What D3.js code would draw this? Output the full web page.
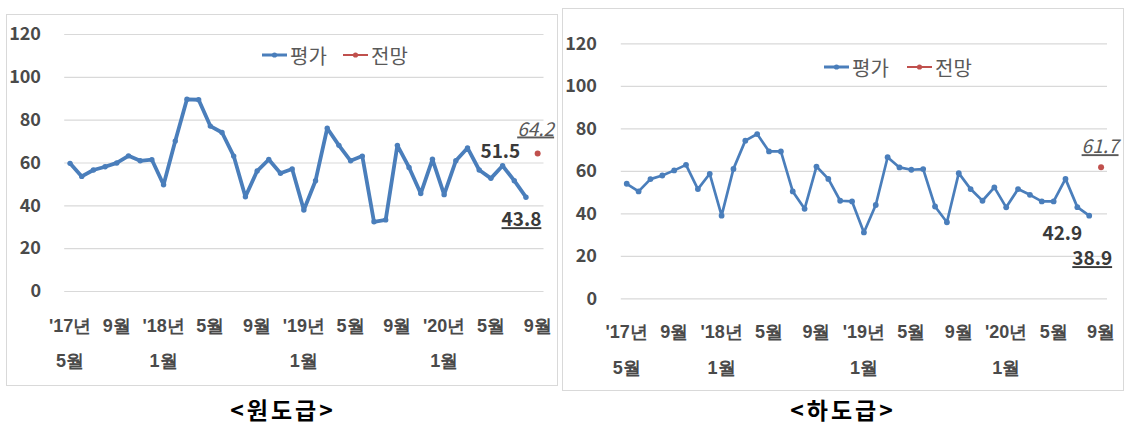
<!DOCTYPE html>
<html>
<head>
<meta charset="utf-8">
<script src="https://cdn.jsdelivr.net/npm/d3@7"></script>
<style>
  html, body { margin: 0; padding: 0; background: #ffffff; }
  svg { display: block; font-family: "Noto Sans CJK KR", "Noto Sans", sans-serif; }
</style>
</head>
<body>
<svg id="chart" width="1128" height="426"></svg>
<script>
// ---------------- DATA ----------------
const categories = [
  "2017.05","2017.06","2017.07","2017.08","2017.09","2017.10","2017.11","2017.12",
  "2018.01","2018.02","2018.03","2018.04","2018.05","2018.06","2018.07","2018.08",
  "2018.09","2018.10","2018.11","2018.12","2019.01","2019.02","2019.03","2019.04",
  "2019.05","2019.06","2019.07","2019.08","2019.09","2019.10","2019.11","2019.12",
  "2020.01","2020.02","2020.03","2020.04","2020.05","2020.06","2020.07","2020.08",
  "2020.09"
];
const tickCategories = ["2017.05","2017.09","2018.01","2018.05","2018.09","2019.01","2019.05","2019.09","2020.01","2020.05","2020.09"];
const tickLabels = [["'17년","5월"],["9월"],["'18년","1월"],["5월"],["9월"],["'19년","1월"],["5월"],["9월"],["'20년","1월"],["5월"],["9월"]];
const yTicks = [0, 20, 40, 60, 80, 100, 120];
const seriesNames = ["평가", "전망"];
const panelTitles = ["<원도급>", "<하도급>"];

// 원도급 평가 (2017.05 ~ 2020.08), 전망 (2020.09)
const wonEval = [59.6, 53.5, 56.5, 58, 59.8, 63.1, 60.8, 61.3, 49.6, 70,
                 89.5, 89.3, 77, 74, 63, 44, 56, 61.4, 55, 57,
                 37.8, 51.5, 76, 68, 60.8, 63, 32.3, 33.2, 68, 57.7,
                 45.5, 61.5, 45, 60.8, 66.8, 56.5, 52.6, 58.5, 51.5, 43.8];
const wonForecast = [{cat: "2020.09", value: 64.2}];

// 하도급 평가 (2017.05 ~ 2020.08), 전망 (2020.09)
const haEval = [53.9, 50.3, 56.1, 57.8, 60.2, 62.8, 51.4, 58.6, 38.9, 60.9,
                74.2, 77.3, 69.1, 69.1, 50.3, 42.1, 62, 56.2, 45.9, 45.6,
                31, 43.9, 66.4, 61.6, 60.5, 60.8, 43.2, 35.8, 58.9, 51.4,
                45.9, 52.2, 42.8, 51.4, 48.7, 45.6, 45.6, 56.2, 42.9, 38.9];
const haForecast = [{cat: "2020.09", value: 61.7}];

// ---------------- STYLE / LAYOUT ----------------
const BLUE = "#4a7ebb", RED = "#c0504d", GRID = "#d9d9d9", TXT = "#4a4a4a", TXT2 = "#595959";

const panels = [
  {
    evalData: wonEval, forecast: wonForecast, title: panelTitles[0],
    box: {x: 6, y: 14, w: 551, h: 371},
    plot: {x0: 64.2, x1: 543.5, yTop: 34, yBottom: 291},
    lineW: 3.8, markR: 2.7,
    tickRowY: [326, 361], yLabelX: 41,
    legend: {x: 262, y: 55, gap: 81},
    notes: [
      {idx: 38, text: "51.5", dx: 6, dy: -23, anchor: "end", style: "bold"},
      {idx: 39, text: "43.8", dx: -4.5, dy: 29, anchor: "middle", style: "boldU"},
      {forecast: true, text: "64.2", dx: -2, dy: -18, anchor: "middle", style: "italicU"}
    ],
    titleX: 283
  },
  {
    evalData: haEval, forecast: haForecast, title: panelTitles[1],
    box: {x: 562, y: 8, w: 561, h: 382},
    plot: {x0: 620.8, x1: 1107, yTop: 43.3, yBottom: 298.3},
    lineW: 2.7, markR: 2.9,
    tickRowY: [332, 368], yLabelX: 597,
    legend: {x: 824, y: 67, gap: 83},
    notes: [
      {idx: 38, text: "42.9", dx: -15, dy: 33, anchor: "middle", style: "bold"},
      {idx: 39, text: "38.9", dx: 3, dy: 49.5, anchor: "middle", style: "boldU"},
      {forecast: true, text: "61.7", dx: -1, dy: -14, anchor: "middle", style: "italicU"}
    ],
    titleX: 843
  }
];

const svg = d3.select("#chart");

panels.forEach(p => {
  const g = svg.append("g");

  // panel border
  g.append("rect")
    .attr("x", p.box.x + 0.5).attr("y", p.box.y + 0.5)
    .attr("width", p.box.w).attr("height", p.box.h)
    .attr("fill", "#fff").attr("stroke", GRID).attr("stroke-width", 1);

  const x = d3.scaleBand().domain(categories).range([p.plot.x0, p.plot.x1]).paddingInner(0).paddingOuter(0);
  const y = d3.scaleLinear().domain([0, 120]).range([p.plot.yBottom, p.plot.yTop]);
  const cx = c => x(c) + x.bandwidth() / 2;

  // gridlines
  const grid = g.append("g")
    .attr("transform", `translate(${p.plot.x0},0)`)
    .call(d3.axisLeft(y).tickValues(yTicks).tickSize(-(p.plot.x1 - p.plot.x0)).tickFormat(""));
  grid.select(".domain").remove();
  grid.selectAll(".tick line").attr("stroke", GRID).attr("stroke-width", 1.2);

  // y labels
  const yl = g.append("g")
    .attr("transform", `translate(${p.yLabelX},0)`)
    .call(d3.axisLeft(y).tickValues(yTicks).tickSize(0).tickPadding(0));
  yl.select(".domain").remove();
  yl.selectAll("text")
    .attr("fill", TXT).style("font-size", "18px").style("font-weight", 700)
    .style("font-family", "'Noto Sans CJK KR', sans-serif");

  // x labels (two rows where needed)
  const xl = g.append("g")
    .attr("transform", `translate(0,${p.plot.yBottom})`)
    .call(d3.axisBottom(x).tickValues(tickCategories).tickSize(0).tickFormat(""));
  xl.select(".domain").remove();
  xl.selectAll(".tick").each(function(d) {
    const i = tickCategories.indexOf(d);
    const lines = tickLabels[i];
    const t = d3.select(this).select("text")
      .attr("y", null).attr("dy", null)
      .attr("fill", TXT).style("font-size", "18px").style("font-weight", 700)
      .attr("text-anchor", "middle").attr("dominant-baseline", "central");
    lines.forEach((ln, k) => {
      t.append("tspan").attr("x", 0).attr("y", p.tickRowY[k] - p.plot.yBottom).text(ln);
    });
  });

  // evaluation line
  const evalPts = p.evalData.map((v, i) => ({cat: categories[i], value: v}));
  g.append("path")
    .datum(evalPts)
    .attr("fill", "none").attr("stroke", BLUE).attr("stroke-width", p.lineW)
    .attr("stroke-linejoin", "round").attr("stroke-linecap", "round")
    .attr("d", d3.line().x(d => cx(d.cat)).y(d => y(d.value)));
  g.append("g").selectAll("circle").data(evalPts).join("circle")
    .attr("cx", d => cx(d.cat)).attr("cy", d => y(d.value)).attr("r", p.markR)
    .attr("fill", BLUE);

  // forecast point
  g.append("g").selectAll("circle").data(p.forecast).join("circle")
    .attr("cx", d => cx(d.cat)).attr("cy", d => y(d.value)).attr("r", 3)
    .attr("fill", RED);

  // annotations
  p.notes.forEach(n => {
    const pt = n.forecast ? p.forecast[0] : evalPts[n.idx];
    const t = g.append("text")
      .attr("x", cx(pt.cat) + n.dx).attr("y", y(pt.value) + n.dy)
      .attr("text-anchor", n.anchor)
      .style("font-size", "19px")
      .style("font-family", "'Noto Sans CJK KR', sans-serif")
      .text(n.text);
    if (n.style === "italicU") {
      t.attr("fill", TXT2).style("font-style", "italic").style("text-decoration", "underline").style("font-weight", 400);
    } else {
      t.attr("fill", "#3a3a3a").style("font-weight", 700);
      if (n.style === "boldU") t.style("text-decoration", "underline");
    }
  });

  // legend
  const lg = g.append("g").attr("transform", `translate(${p.legend.x},${p.legend.y})`);
  const items = lg.selectAll("g").data(seriesNames).join("g")
    .attr("transform", (d, i) => `translate(${i * p.legend.gap},0)`);
  items.append("line").attr("x1", 0).attr("x2", 25).attr("y1", 0).attr("y2", 0)
    .attr("stroke", (d, i) => i === 0 ? BLUE : RED).attr("stroke-width", (d, i) => i === 0 ? 3 : 2);
  items.append("circle").attr("cx", 12.5).attr("cy", 0).attr("r", 2.6)
    .attr("fill", (d, i) => i === 0 ? BLUE : RED);
  items.append("text").attr("x", 28).attr("y", 0).attr("dominant-baseline", "central")
    .attr("fill", TXT2).style("font-size", "20px").text(d => d);

  // panel caption
  svg.append("text")
    .attr("x", p.titleX).attr("y", 409).attr("text-anchor", "middle").attr("dominant-baseline", "central")
    .attr("fill", "#000").style("font-size", "23px").style("font-weight", 700)
    .style("letter-spacing", "3px")
    .text(p.title);
});
</script>
</body>
</html>
